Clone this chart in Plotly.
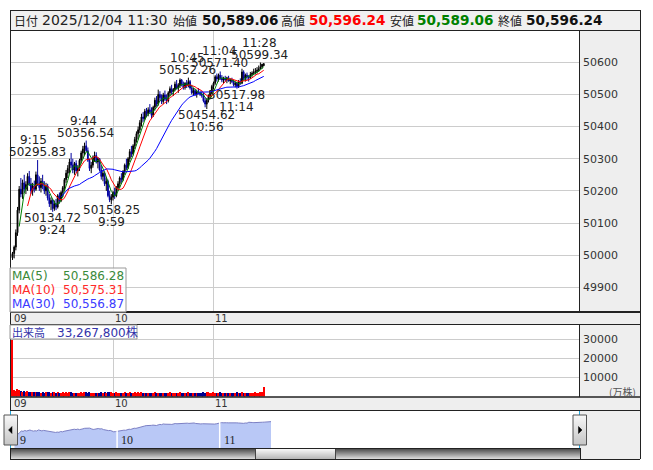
import plotly.graph_objects as go
import pandas as pd

W, H = 653, 470


def PX(x):
    return x / W


def PY(y):
    return 1 - y / H


# ---------------- data ----------------
minutes = list(range(151))  # minutes after 09:00, 09:00 .. 11:30

opens = [
    49992, 50005, 50025, 50070, 50140, 50205, 50190, 50225, 50205, 50220,
    50245, 50222, 50200, 50215, 50205, 50250, 50225, 50210, 50230, 50215,
    50200, 50215, 50178, 50160, 50170, 50145, 50160, 50150, 50185, 50170,
    50195, 50210, 50235, 50255, 50270, 50290, 50280, 50265, 50285, 50262,
    50270, 50295, 50318, 50330, 50340, 50325, 50295, 50270, 50280, 50302,
    50310, 50290, 50300, 50265, 50245, 50255, 50222, 50230, 50185, 50172,
    50180, 50195, 50185, 50210, 50222, 50240, 50235, 50260, 50280, 50272,
    50300, 50322, 50315, 50340, 50360, 50378, 50390, 50412, 50430, 50425,
    50448, 50440, 50452, 50445, 50435, 50460, 50482, 50470, 50500, 50490,
    50478, 50498, 50485, 50480, 50505, 50518, 50508, 50515, 50532, 50520,
    50528, 50545, 50532, 50522, 50535, 50528, 50540, 50520, 50505, 50512,
    50500, 50508, 50505, 50500, 50498, 50480, 50470, 50482, 50495, 50505,
    50525, 50535, 50555, 50548, 50560, 50550, 50545, 50550, 50545, 50552,
    50542, 50545, 50540, 50530, 50535, 50525, 50540, 50535, 50570, 50550,
    50560, 50555, 50552, 50562, 50566, 50570, 50571.7, 50575, 50580, 50586,
    50589.06,
]
highs = [
    50010, 50030, 50080, 50150, 50215, 50240, 50235, 50250, 50230, 50255,
    50262, 50240, 50225, 50232, 50260, 50295.83, 50245, 50240, 50250, 50230,
    50225, 50222, 50190, 50180, 50175, 50170, 50175, 50190, 50195, 50200,
    50215, 50240, 50265, 50280, 50300, 50318, 50300, 50290, 50295, 50280,
    50300, 50325, 50340, 50350, 50356.54, 50335, 50300, 50290, 50310, 50322,
    50320, 50305, 50302, 50280, 50265, 50260, 50240, 50235, 50200, 50190,
    50200, 50210, 50215, 50230, 50245, 50255, 50265, 50285, 50300, 50305,
    50330, 50340, 50345, 50368, 50385, 50400, 50420, 50440, 50445, 50455,
    50458, 50460, 50470, 50460, 50465, 50490, 50495, 50515, 50510, 50500,
    50505, 50512, 50500, 50510, 50525, 50530, 50520, 50540, 50545, 50535,
    50550, 50548, 50540, 50538, 50545, 50552.26, 50545, 50530, 50520, 50518,
    50515, 50520, 50512, 50510, 50505, 50490, 50488, 50500, 50510, 50530,
    50540, 50560, 50565, 50565, 50571.40, 50560, 50555, 50558, 50555, 50558,
    50550, 50552, 50545, 50540, 50538, 50545, 50550, 50580, 50575, 50565,
    50568, 50560, 50570, 50572, 50580, 50582, 50585, 50590, 50599.34, 50595,
    50596.24,
]
lows = [
    49985, 49990, 50015, 50060, 50130, 50180, 50175, 50195, 50190, 50200,
    50215, 50190, 50185, 50195, 50200, 50215, 50200, 50195, 50205, 50190,
    50185, 50170, 50150, 50140, 50134.72, 50138, 50140, 50145, 50160, 50165,
    50180, 50200, 50225, 50240, 50255, 50270, 50255, 50250, 50255, 50245,
    50262, 50285, 50300, 50310, 50320, 50290, 50262, 50255, 50272, 50290,
    50285, 50270, 50260, 50235, 50230, 50215, 50200, 50180, 50165, 50158.25,
    50170, 50175, 50180, 50200, 50210, 50225, 50230, 50250, 50265, 50268,
    50290, 50305, 50310, 50330, 50350, 50360, 50380, 50400, 50415, 50420,
    50430, 50432, 50440, 50425, 50430, 50450, 50462, 50465, 50480, 50470,
    50470, 50480, 50470, 50475, 50495, 50500, 50495, 50510, 50515, 50505,
    50520, 50525, 50515, 50515, 50520, 50522, 50515, 50500, 50495, 50495,
    50490, 50500, 50495, 50490, 50475, 50460, 50454.62, 50475, 50485, 50500,
    50515, 50530, 50540, 50540, 50545, 50538, 50535, 50540, 50535, 50540,
    50532, 50535, 50525, 50522, 50517.98, 50520, 50530, 50532, 50545, 50540,
    50545, 50540, 50548, 50555, 50560, 50562, 50565, 50570, 50578, 50580,
    50589.06,
]
closes = [
    50005, 50025, 50070, 50140, 50205, 50190, 50225, 50205, 50220, 50245,
    50222, 50200, 50215, 50205, 50250, 50225, 50210, 50230, 50215, 50200,
    50215, 50178, 50160, 50170, 50145, 50160, 50150, 50185, 50170, 50195,
    50210, 50235, 50255, 50270, 50290, 50280, 50265, 50285, 50262, 50270,
    50295, 50318, 50330, 50340, 50325, 50295, 50270, 50280, 50302, 50310,
    50290, 50300, 50265, 50245, 50255, 50222, 50230, 50185, 50172, 50180,
    50195, 50185, 50210, 50222, 50240, 50235, 50260, 50280, 50272, 50300,
    50322, 50315, 50340, 50360, 50378, 50390, 50412, 50430, 50425, 50448,
    50440, 50452, 50445, 50435, 50460, 50482, 50470, 50500, 50490, 50478,
    50498, 50485, 50480, 50505, 50518, 50508, 50515, 50532, 50520, 50528,
    50545, 50532, 50522, 50535, 50528, 50540, 50520, 50505, 50512, 50500,
    50508, 50505, 50500, 50498, 50480, 50470, 50482, 50495, 50505, 50525,
    50535, 50555, 50548, 50560, 50550, 50545, 50550, 50545, 50552, 50542,
    50545, 50540, 50530, 50535, 50525, 50540, 50535, 50570, 50550, 50560,
    50555, 50552, 50562, 50566, 50570, 50571.7, 50575, 50580, 50586, 50594,
    50596.24,
]
volumes = [  # 万株
    29800,
    3400, 3100, 3700, 3200, 2900, 2600, 2800, 2500, 2700, 2400,
    2300, 2500, 2200, 2400, 2600, 2300, 2100, 2200, 2000, 2300,
    2400, 2200, 2100, 2500, 2200, 2000, 2300, 2100, 1900, 2200,
    2100, 2300, 2000, 2200, 2400, 2100, 1900, 2000, 1800, 2100,
    2200, 2000, 2300, 2400, 2100, 2200, 1900, 2000, 2100, 1800,
    2000, 2100, 2200, 1900, 2300, 2000, 2400, 2200, 2500, 2100,
    2000, 2200, 1900, 2100, 1800, 2000, 2200, 1900, 2100, 2300,
    2000, 2100, 2200, 2000, 2300, 2100, 2200, 1900, 2000, 1800,
    2000, 1900, 2100, 1800, 2200, 2000, 2100, 1900, 1800, 2000,
    1900, 2100, 2000, 2200, 1800, 1900, 2100, 2000, 1900, 2200,
    2000, 1800, 1900, 2100, 2300, 2000, 1900, 1800, 2000, 1900,
    1800, 1900, 2000, 2200, 2100, 2400, 2200, 2000, 2100, 2300,
    2100, 2000, 1900, 2200, 2000, 1900, 1800, 2000, 1900, 2100,
    1900, 2000, 2100, 2200, 2000, 1900, 2300, 2100, 2000, 1900,
    2000, 2100, 1900, 2000, 2200, 2000, 2100, 2300, 2200, 5200,
]

ma_periods = [5, 10, 30]
ma_names = ["MA(5)", "MA(10)", "MA(30)"]
ma_line_colors = ["#008000", "#ff0000", "#0000ff"]
ma_text_colors = ["#3a8a3a", "#ff2a2a", "#3a3aff"]
ma_legend_values = ["50,586.28", "50,575.31", "50,556.87"]

price_ticks = [49900, 50000, 50100, 50200, 50300, 50400, 50500, 50600]
volume_ticks = [10000, 20000, 30000]
hour_minutes = [0, 60, 120]
hour_labels = ["09", "10", "11"]
nav_hour_labels = ["9", "10", "11"]

high_label_minutes = [15, 44, 105, 124, 148]
low_label_minutes = [24, 59, 116, 134]

header_items = [  # (text, x, kind, color)
    ("日付", 13, "cjk", "#222222"),
    ("2025/12/04 11:30", 41, "date", "#222222"),
    ("始値", 172, "cjk", "#222222"),
    ("50,589.06", 201, "val", "#111111"),
    ("高値", 280, "cjk", "#222222"),
    ("50,596.24", 308, "val", "#ff0000"),
    ("安値", 389, "cjk", "#222222"),
    ("50,589.06", 416, "val", "#008000"),
    ("終値", 497, "cjk", "#222222"),
    ("50,596.24", 525, "val", "#111111"),
]
volume_label = "33,267,800株"

# ---------------- figure ----------------
cl = pd.Series(closes)
up = [c > o for o, c in zip(opens, closes)]

fig = go.Figure()
fig.add_trace(go.Candlestick(
    x=minutes, open=opens, high=highs, low=lows, close=closes,
    increasing=dict(line=dict(color="#000000", width=1), fillcolor="#000000"),
    decreasing=dict(line=dict(color="#0000a0", width=1), fillcolor="#0000a0"),
    whiskerwidth=0, showlegend=False, hoverinfo="skip", xaxis="x", yaxis="y",
))
for p, c in zip(ma_periods, ma_line_colors):
    fig.add_trace(go.Scatter(
        x=minutes, y=cl.rolling(p).mean(), mode="lines",
        line=dict(color=c, width=1), showlegend=False, hoverinfo="skip",
        xaxis="x", yaxis="y",
    ))
fig.add_trace(go.Bar(
    x=minutes, y=volumes, width=0.75,
    marker=dict(color=["#ff0000" if u else "#000090" for u in up], line=dict(width=0)),
    showlegend=False, hoverinfo="skip", xaxis="x2", yaxis="y2",
))
fig.add_trace(go.Scatter(
    x=minutes, y=closes, mode="lines", fill="tozeroy", fillcolor="#b9c8f6",
    line=dict(color="#7c80c4", width=1), showlegend=False, hoverinfo="skip",
    xaxis="x3", yaxis="y3",
))

grid = "#cccccc"
main_xrange = [-1.49, 338.2]
common_x = dict(range=main_xrange, tickvals=[60, 120], showticklabels=False,
                showgrid=True, gridcolor=grid, gridwidth=1, zeroline=False,
                showline=False, ticks="", fixedrange=True)
axis_font = dict(family="DejaVu Sans", size=11, color="#333333")

fig.update_layout(
    width=W, height=H, autosize=False,
    margin=dict(l=0, r=0, t=0, b=0, pad=0),
    paper_bgcolor="#ffffff", plot_bgcolor="rgba(0,0,0,0)",
    font=dict(family="DejaVu Sans", size=12, color="#222222"),
    bargap=0, showlegend=False,
    xaxis=dict(domain=[PX(10), PX(579)], anchor="y",
               rangeslider=dict(visible=False), **common_x),
    yaxis=dict(domain=[PY(312), PY(30)], anchor="x", range=[49823.1, 50700.5],
               side="right", tickvals=price_ticks,
               ticktext=[str(v) for v in price_ticks], tickfont=axis_font,
               showgrid=True, gridcolor=grid, zeroline=False, ticks="",
               ticklabelstandoff=3, fixedrange=True),
    xaxis2=dict(domain=[PX(10), PX(579)], anchor="y2", **common_x),
    yaxis2=dict(domain=[PY(396.5), PY(324)], anchor="x2", range=[0, 38160],
                side="right", tickvals=volume_ticks,
                ticktext=[str(v) for v in volume_ticks], tickfont=axis_font,
                showgrid=True, gridcolor=grid, zeroline=False, ticks="",
                ticklabelstandoff=3, fixedrange=True),
    xaxis3=dict(domain=[PX(10), PX(580)], anchor="y3", range=[-2.63, 330.7],
                visible=False, fixedrange=True),
    yaxis3=dict(domain=[PY(448), PY(411)], anchor="x3", range=[49495, 51041],
                visible=False, fixedrange=True),
)

# ---------------- shapes ----------------
shapes = []


def rect(x0, y0, x1, y1, fill=None, line=None, lw=1, layer="above"):
    shapes.append(dict(
        type="rect", xref="paper", yref="paper",
        x0=PX(x0), x1=PX(x1), y0=PY(y1), y1=PY(y0),
        fillcolor=fill if fill else "rgba(0,0,0,0)",
        line=dict(color=line if line else "rgba(0,0,0,0)", width=lw if line else 0),
        layer=layer))


def seg(x0, y0, x1, y1, color="#222222", lw=1, layer="above"):
    shapes.append(dict(
        type="line", xref="paper", yref="paper",
        x0=PX(x0), x1=PX(x1), y0=PY(y0), y1=PY(y1),
        line=dict(color=color, width=lw), layer=layer))


def path(points, fill):
    d = "M " + " L ".join(f"{PX(x)},{PY(y)}" for x, y in points) + " Z"
    shapes.append(dict(type="path", xref="paper", yref="paper", path=d,
                       fillcolor=fill, line=dict(color=fill, width=0.5), layer="above"))


panel = "#eeeeee"
rect(10, 10, 640, 30, fill="#f0f0f0", layer="below")
rect(579, 30, 640, 312, fill=panel, layer="below")
rect(10, 312, 640, 324, fill=panel, layer="below")
rect(579, 324, 640, 397, fill=panel, layer="below")
rect(10, 397, 640, 410, fill=panel, layer="below")
rect(580, 410, 640, 459, fill=panel, layer="below")

# navigator hour gaps
for m in hour_minutes[1:]:
    shapes.append(dict(type="line", xref="x3", yref="paper", x0=m, x1=m,
                       y0=PY(448), y1=PY(411), line=dict(color="#ffffff", width=1.5),
                       layer="above"))

# scrollbar (gradient built from thin strips)
for i in range(11):
    t = i / 10
    g = int(70 + t * (215 - 70))
    rect(10, 448 + i, 580, 449 + i, fill=f"rgb({g},{g},{g})")
    g2 = int(252 - t * (252 - 185))
    rect(255, 448 + i, 335, 449 + i, fill=f"rgb({g2},{g2},{g2})")
seg(255.5, 448, 255.5, 459, color="#444444")
seg(335.5, 448, 335.5, 459, color="#444444")

# frame lines
seg(10, 10.5, 640, 10.5)
seg(10, 30.5, 640, 30.5)
seg(10.5, 10, 10.5, 459)
seg(640.5, 10, 640.5, 459)
seg(10, 459.5, 640, 459.5)
seg(579.5, 30, 579.5, 312)
seg(579.5, 324, 579.5, 397)
seg(10, 312, 640, 312, lw=1.8)
seg(10, 324.5, 640, 324.5)
seg(10, 397, 640, 397, lw=1.5)
seg(10, 410.5, 640, 410.5)
seg(10, 448.5, 580, 448.5)
seg(580.5, 448, 580.5, 459)

# navigator handles
seg(10.5, 411, 10.5, 448, color="#22a8e0")
seg(579.5, 411, 579.5, 448, color="#22a8e0")

# navigator buttons
for bx0, bx1, pts in [
    (4, 17.5, [(8.5, 430), (12, 426.5), (12, 433.5)]),
    (573, 586.5, [(582, 430), (578.5, 426.5), (578.5, 433.5)]),
]:
    for i in range(30):
        t = i / 29
        g = int(248 - t * 50)
        rect(bx0, 415 + i, bx1, 416 + i, fill=f"rgb({g},{g},{g})")
    rect(bx0, 415, bx1, 445, line="#555555", lw=1)
    path(pts, "#000000")

# legend boxes
rect(10, 268, 126, 312, fill="rgba(255,255,255,0.8)", line="#999999", lw=1)
rect(10, 325, 137, 339, fill="rgba(255,255,255,0.9)", line="#999999", lw=1)

fig.update_layout(shapes=shapes)

# ---------------- annotations ----------------
ann = []


def txt(x, y, s, size=12, color="#222222", family="DejaVu Sans",
        xanchor="left", yanchor="middle"):
    ann.append(dict(x=PX(x), y=PY(y), xref="paper", yref="paper", text=s,
                    showarrow=False, xanchor=xanchor, yanchor=yanchor,
                    font=dict(family=family, size=size, color=color),
                    borderpad=0))


cjk = "Noto Sans CJK JP"
for s, x, kind, col in header_items:
    if kind == "cjk":
        txt(x, 20.5, s, size=12, color=col, family=cjk)
    elif kind == "date":
        txt(x, 20, s, size=14, color=col)
    else:
        txt(x, 20, f"<b>{s}</b>", size=13.6, color=col)

# hour labels in bands
for m, lab in zip(hour_minutes, hour_labels):
    for yy in (318, 403.5):
        ann.append(dict(x=m, y=PY(yy), xref="x", yref="paper", text=lab,
                        showarrow=False, xanchor="left", yanchor="middle",
                        xshift=0.5, font=dict(size=10, color="#333333"),
                        borderpad=0))
for m, lab in zip(hour_minutes, nav_hour_labels):
    ann.append(dict(x=m, y=PY(440), xref="x3", yref="paper", text=lab,
                    showarrow=False, xanchor="left", yanchor="middle",
                    xshift=3 if m else 4,
                    font=dict(family="Liberation Serif", size=12, color="#222222"),
                    borderpad=0))

# MA legend
for i, (name, col, val) in enumerate(zip(ma_names, ma_text_colors, ma_legend_values)):
    yy = 275.5 + i * 14
    txt(11, yy, name, size=12, color=col)
    txt(125, yy, val, size=12, color=col, xanchor="right")

# volume label
txt(11, 332, "出来高", size=11, color="#3333aa", family=cjk)
txt(56, 332, volume_label, size=12, color="#3333aa", family="DejaVu Sans, " + cjk)
txt(637, 391, "(万株)", size=10, color="#555555", family=cjk, xanchor="right")


def tlabel(m):
    return f"{9 + m // 60}:{m % 60:02d}"


time_xshift = {15: -4, 44: -3}
for m in high_label_minutes:
    ann.append(dict(x=m, y=highs[m], xref="x", yref="y", text=f"{highs[m]:.2f}",
                    showarrow=False, yshift=8, xshift=-0.5, borderpad=0,
                    font=dict(size=12, color="#222222")))
    ann.append(dict(x=m, y=highs[m], xref="x", yref="y", text=tlabel(m),
                    showarrow=False, yshift=20, xshift=time_xshift.get(m, -1),
                    borderpad=0, font=dict(size=12, color="#222222")))
for m in low_label_minutes:
    ann.append(dict(x=m, y=lows[m], xref="x", yref="y", text=f"{lows[m]:.2f}",
                    showarrow=False, yshift=-6, borderpad=0,
                    font=dict(size=12, color="#222222")))
    ann.append(dict(x=m, y=lows[m], xref="x", yref="y", text=tlabel(m),
                    showarrow=False, yshift=-18, borderpad=0,
                    font=dict(size=12, color="#222222")))

fig.update_layout(annotations=ann)

fig.write_html("out.html", config={"displayModeBar": False},
               post_script="document.body.style.margin='0px';")
